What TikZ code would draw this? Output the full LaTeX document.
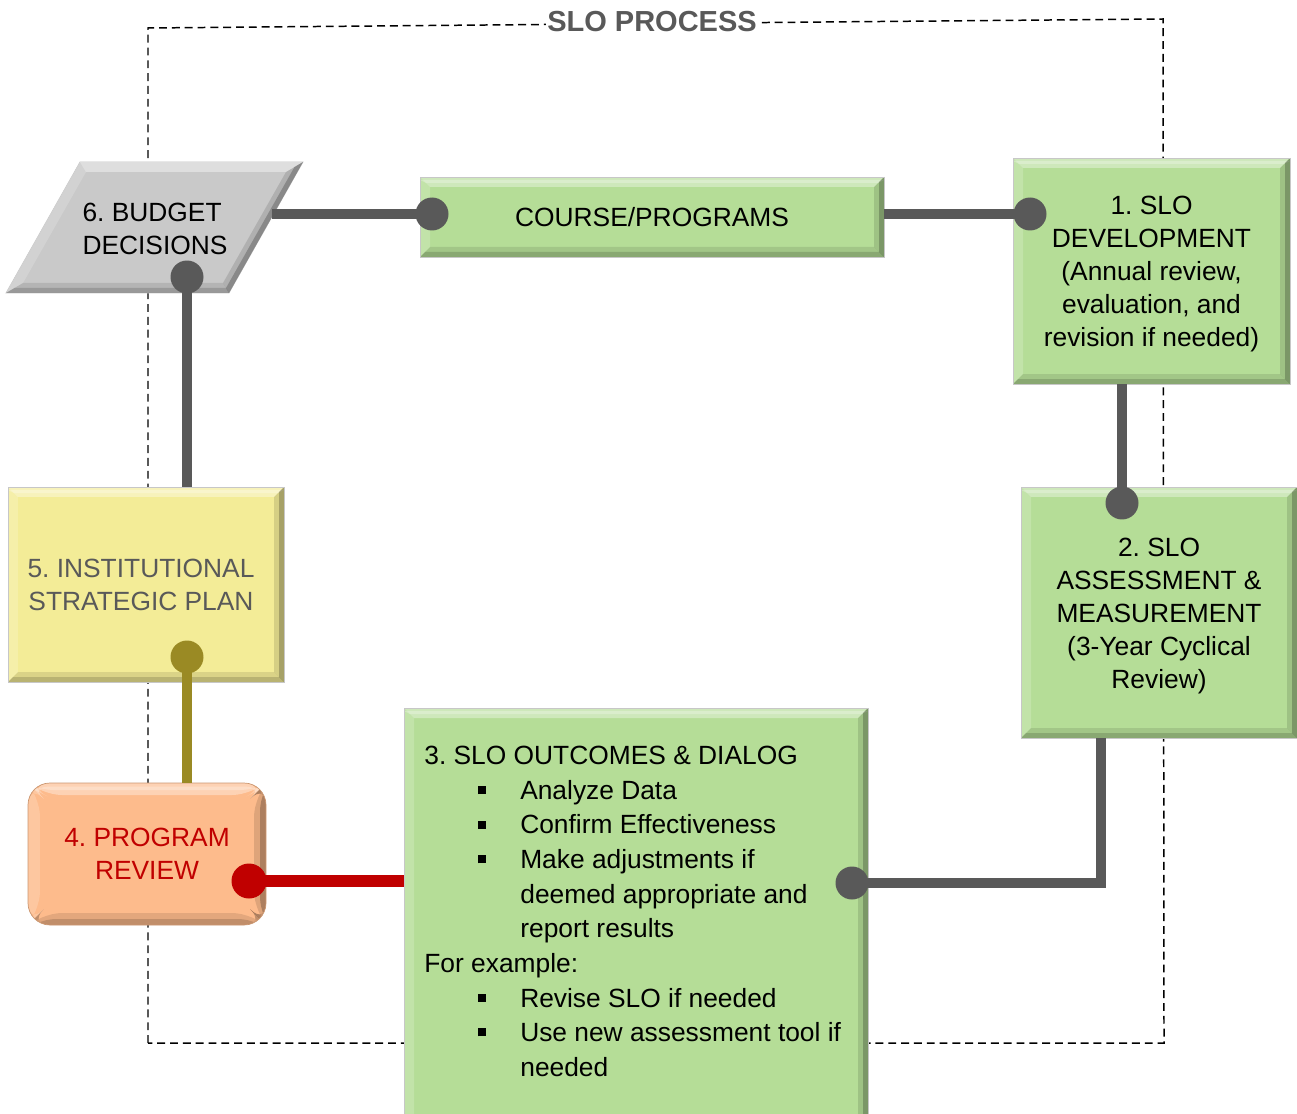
\documentclass[tikz,border=0pt]{standalone}
\usepackage{fontspec}
\setmainfont{Liberation Sans}
\frenchspacing
\newdimen\pxu
\pxu=0.02cm
\newcommand{\sqbullet}{\rule[3pt]{4.5pt}{4.5pt}}
\newcommand{\topstrut}{\rule{0pt}{14.2pt}}
\definecolor{sgreen}{HTML}{B5DD97}
\definecolor{syellow}{HTML}{F3EC97}
\definecolor{sorange}{HTML}{FDBB8C}
\definecolor{sgray}{HTML}{C9C9C9}
\definecolor{cgray}{HTML}{595959}
\definecolor{cred}{HTML}{C00000}
\definecolor{colive}{HTML}{9A8A24}
\begin{document}
\begin{tikzpicture}[x=0.02cm,y=-0.02cm,
  txt/.style={font=\fontsize{15}{18.8}\selectfont, align=center, text=black},
  bevel/.style={path picture={
    % top edge: light
    \fill[white,opacity=.35] (path picture bounding box.north west) -- (path picture bounding box.north east)
      -- ([xshift=-#1,yshift=-#1]path picture bounding box.north east) -- ([xshift=#1,yshift=-#1]path picture bounding box.north west) -- cycle;
    \fill[white,opacity=.25] ([yshift=-0.3*#1]path picture bounding box.north west) -- ([yshift=-0.3*#1]path picture bounding box.north east)
      -- ([xshift=-0.6*#1,yshift=-0.6*#1]path picture bounding box.north east) -- ([xshift=0.6*#1,yshift=-0.6*#1]path picture bounding box.north west) -- cycle;
    % left edge: faint light
    \fill[white,opacity=.18] (path picture bounding box.north west) -- ([xshift=#1,yshift=-#1]path picture bounding box.north west)
      -- ([xshift=#1,yshift=#1]path picture bounding box.south west) -- (path picture bounding box.south west) -- cycle;
    % right edge: shaded, darker towards the outside
    \fill[black,opacity=.12] (path picture bounding box.north east) -- (path picture bounding box.south east)
      -- ([xshift=-#1,yshift=#1]path picture bounding box.south east) -- ([xshift=-#1,yshift=-#1]path picture bounding box.north east) -- cycle;
    \fill[black,opacity=.22] (path picture bounding box.north east) -- (path picture bounding box.south east)
      -- ([xshift=-0.5*#1,yshift=0.5*#1]path picture bounding box.south east) -- ([xshift=-0.5*#1,yshift=-0.5*#1]path picture bounding box.north east) -- cycle;
    % bottom edge: shaded
    \fill[black,opacity=.1] (path picture bounding box.south west) -- ([xshift=#1,yshift=#1]path picture bounding box.south west)
      -- ([xshift=-#1,yshift=#1]path picture bounding box.south east) -- (path picture bounding box.south east) -- cycle;
    \fill[black,opacity=.15] (path picture bounding box.south west) -- ([xshift=0.5*#1,yshift=0.5*#1]path picture bounding box.south west)
      -- ([xshift=-0.5*#1,yshift=0.5*#1]path picture bounding box.south east) -- (path picture bounding box.south east) -- cycle;
  }},
  box/.style={txt, rectangle, inner sep=0pt, draw=black!22, line width=0.4pt, bevel=0.2cm},
  greenbox/.style={box, fill=sgreen},
  frame/.style={draw=black, line width=0.85pt, dash pattern=on 4.5pt off 2.8pt},
  title/.style={font=\bfseries\fontsize{16.5}{18}\selectfont, text=cgray, fill=white, inner xsep=1pt, inner ysep=1pt},
  conn/.style={draw=cgray, line width=6.2pt},
  dot/.style={fill=cgray},
]
\useasboundingbox (0,0) rectangle (1297,1114);

% dashed process frame
\draw[frame] (148,1043) -- (148,28) -- (1163,19) -- (1164,1043) -- cycle;
\node[title] (title) at (652,22) {SLO PROCESS};

% course / programs and SLO stages
\node[greenbox, minimum width=464*\pxu, minimum height=80*\pxu] (course) at (652,217) {COURSE/PROGRAMS};
\node[greenbox, minimum width=277*\pxu, minimum height=226*\pxu] (slo1) at (1151.5,271)
  {\topstrut 1. SLO\\DEVELOPMENT\\(Annual review,\\evaluation, and\\revision if needed)};
\node[greenbox, minimum width=276*\pxu, minimum height=251*\pxu] (slo2) at (1159,612.5)
  {\topstrut 2. SLO\\ASSESSMENT \&\\MEASUREMENT\\(3-Year Cyclical\\Review)};
\node[greenbox, minimum width=464*\pxu, minimum height=430*\pxu] (slo3) at (636,923) {};
\node[txt, align=left, anchor=north west, inner sep=0pt, font=\fontsize{15}{19.7}\selectfont] (slo3text) at (424,746)
  {3. SLO OUTCOMES \& DIALOG\\
   \hspace*{54\pxu}\sqbullet\hspace*{34\pxu}Analyze Data\\
   \hspace*{54\pxu}\sqbullet\hspace*{34\pxu}Confirm Effectiveness\\
   \hspace*{54\pxu}\sqbullet\hspace*{34\pxu}Make adjustments if\\
   \hspace*{96\pxu}deemed appropriate and\\
   \hspace*{96\pxu}report results\\
   For example:\\
   \hspace*{54\pxu}\sqbullet\hspace*{34\pxu}Revise SLO if needed\\
   \hspace*{54\pxu}\sqbullet\hspace*{34\pxu}Use new assessment tool if\\
   \hspace*{96\pxu}needed};

% institutional plan and program review
\node[box, fill=syellow, text=cgray, minimum width=276*\pxu, minimum height=195*\pxu] (isp) at (146,584.5)
  {5. INSTITUTIONAL\hspace*{10\pxu}\\STRATEGIC PLAN\hspace*{10\pxu}};
\node[box, fill=sorange, text=cred, rounded corners=0.44cm, draw=sorange!80!black, minimum width=238*\pxu, minimum height=142*\pxu, bevel=0.24cm] (review) at (147,854)
  {4. PROGRAM\\REVIEW};

% budget decisions parallelogram
\fill[sgray, draw=black!22, line width=0.4pt] (80,162) -- (303,162) -- (229,293) -- (6,293) -- cycle;
\fill[white,opacity=.4] (80,162) -- (303,162) -- (286,172) -- (86,172) -- cycle;
\fill[white,opacity=.18] (80,162) -- (86,172) -- (23,283) -- (6,293) -- cycle;
\fill[black,opacity=.12] (303,162) -- (229,293) -- (223,283) -- (286,172) -- cycle;
\fill[black,opacity=.22] (303,162) -- (229,293) -- (226,288) -- (294.5,167) -- cycle;
\fill[black,opacity=.1] (6,293) -- (23,283) -- (223,283) -- (229,293) -- cycle;
\fill[black,opacity=.15] (6,293) -- (14.5,288) -- (226,288) -- (229,293) -- cycle;
\node[txt, align=left] (budget) at (155,229) {6. BUDGET\\DECISIONS};
\coordinate (budgetR) at (272,214);

% connector end points
\coordinate (dA) at (432,214);
\coordinate (dB) at (1030,214);
\coordinate (dC) at (1122,503);
\coordinate (bendD) at (1101,883);
\coordinate (dD) at (852,883);
\coordinate (dE) at (249,881);
\coordinate (dF) at (187,657);
\coordinate (dG) at (187,277);

% connectors
\draw[conn] (budgetR) -- (dA);
\draw[conn] (course.east |- dB) -- (dB);
\draw[conn] (slo1.south -| dC) -- (dC);
\draw[conn] (slo2.south -| bendD) -- (bendD) -- (dD);
\draw[conn, draw=cred, line width=7pt] (slo3.west |- dE) -- (dE);
\draw[conn, draw=colive] (review.north -| dF) -- (dF);
\draw[conn] (isp.north -| dG) -- (dG);

% connector dots
\foreach \d in {dA,dB,dC,dD,dG}
  \fill[dot] (\d) circle (0.33cm);
\fill[cred] (dE) circle (0.35cm);
\fill[colive] (dF) circle (0.33cm);
\end{tikzpicture}
\end{document}
